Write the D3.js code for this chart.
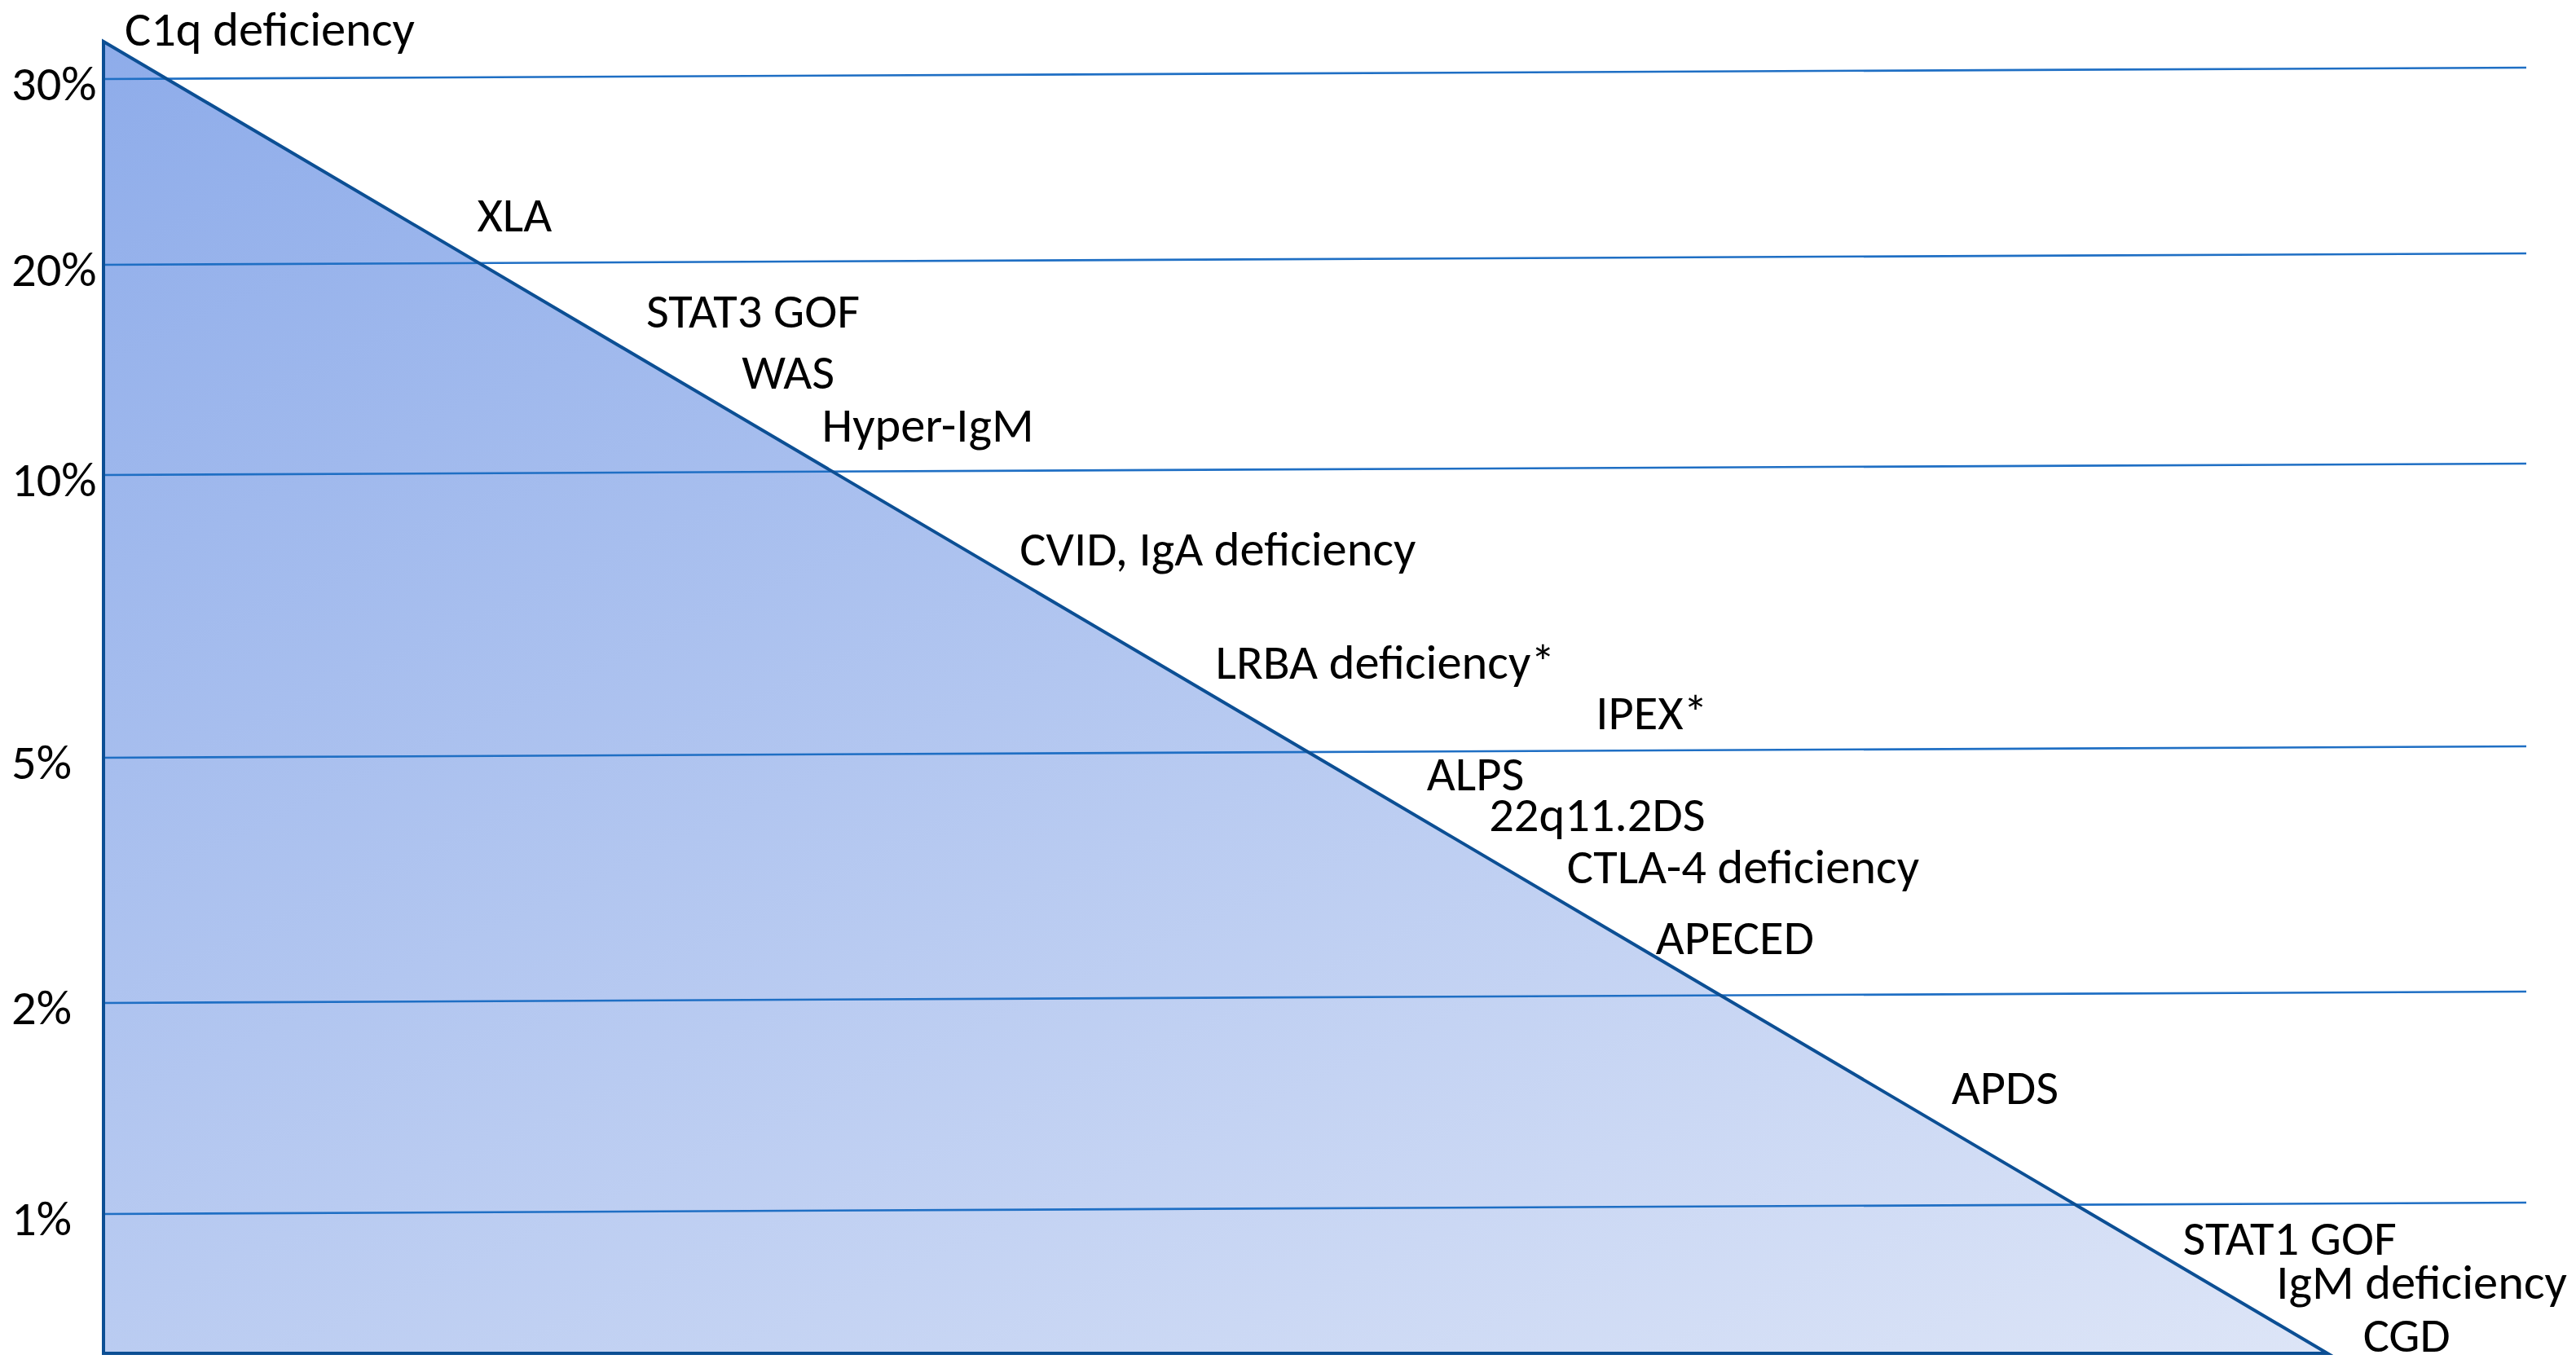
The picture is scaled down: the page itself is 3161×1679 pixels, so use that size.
<!DOCTYPE html>
<html>
<head>
<meta charset="utf-8">
<script src="https://cdn.jsdelivr.net/npm/d3@7"></script>
<style>
  html, body { margin: 0; padding: 0; background: #ffffff; }
  svg { display: block; }
  text { font-family: Carlito, Calibri, Lato, "Open Sans", sans-serif; fill: #000; }
</style>
</head>
<body>
<svg id="chart" width="3161" height="1679"></svg>
<script>
// ---------- data ----------
const tickValues = [1, 2, 5, 10, 20, 30];
const tickLabels = ["1%", "2%", "5%", "10%", "20%", "30%"];

const labelNames = [
  "C1q deficiency", "XLA", "STAT3 GOF", "WAS", "Hyper-IgM",
  "CVID, IgA deficiency", "LRBA deficiency*", "IPEX*", "ALPS", "22q11.2DS",
  "CTLA-4 deficiency", "APECED", "APDS", "STAT1 GOF", "IgM deficiency", "CGD"
];
// estimated prevalence (%) at each label's baseline
const labelPct = [31.8, 21.8, 17.0, 14.1, 11.6, 8.4, 6.4, 5.5, 4.6, 4.1, 3.47, 2.6, 1.52, 0.71, 0.39, 0.01];
// position along the horizontal rank axis (0 = axis, 100 = tip of triangle)
const labelRank = [0.95, 16.8, 24.4, 28.7, 32.3, 41.2, 50.0, 67.1, 59.5, 62.3, 65.8, 69.8, 83.1, 93.5, 97.7, 101.6];

// triangle outline (rank, %)
const triRank = [0, 100, 0];
const triPct = [32, 0, 0];

// ---------- layout ----------
const W = 3161, H = 1679;
const svg = d3.select("#chart");

const x = d3.scaleLinear().domain([0, 100]).range([127, 2856]);
// uneven (hand-placed) vertical scale of the original figure
const y = d3.scaleLinear()
  .domain([0, 1, 2, 5, 10, 20, 30, 32])
  .range([1661, 1490, 1231, 930, 583, 325, 97, 51]);

const gridX0 = 125, gridX1 = 3100, gridTilt = 14;

// gradient
const defs = svg.append("defs");
const grad = defs.append("linearGradient")
  .attr("id", "triGrad")
  .attr("gradientUnits", "userSpaceOnUse")
  .attr("x1", 127).attr("y1", 51)
  .attr("x2", 1227).attr("y2", 2421);
grad.append("stop").attr("offset", 0).attr("stop-color", "#8eacea");
grad.append("stop").attr("offset", 1).attr("stop-color", "#dde5f7");

const pts = triRank.map((r, i) => [x(r), y(triPct[i])]);
const line = d3.line().curve(d3.curveLinearClosed);

// fill
svg.append("path")
  .attr("d", line(pts))
  .attr("fill", "url(#triGrad)")
  .attr("stroke", "none");

// gridlines (slightly tilted, as in the original)
svg.append("g").selectAll("line")
  .data(tickValues)
  .join("line")
  .attr("x1", gridX0)
  .attr("y1", d => y(d))
  .attr("x2", gridX1)
  .attr("y2", d => y(d) - gridTilt)
  .attr("stroke", "#1f6fc4")
  .attr("stroke-width", 2.6);

// outline
svg.append("path")
  .attr("d", line(pts))
  .attr("fill", "none")
  .attr("stroke", "#0c4f94")
  .attr("stroke-width", 4)
  .attr("stroke-linejoin", "miter")
  .attr("stroke-miterlimit", 6);

// tick labels
const baseSize = 56;
svg.append("g").selectAll("text")
  .data(tickValues)
  .join("text")
  .attr("x", 14)
  .attr("y", d => y(d) + 26)
  .attr("font-size", baseSize)
  .text((d, i) => tickLabels[i]);

// disease labels
const lab = svg.append("g").selectAll("text")
  .data(labelNames)
  .join("text")
  .attr("x", (d, i) => x(labelRank[i]))
  .attr("y", (d, i) => y(labelPct[i]))
  .attr("font-size", baseSize)
  .text(d => d);

// match the width of the original face (Calibri-like, narrow)
const ref = lab.filter(d => d === "C1q deficiency").node();
const w = ref.getComputedTextLength();
const target = 356;
const fs = baseSize * target / w;
svg.selectAll("text").attr("font-size", fs);
</script>
</body>
</html>
